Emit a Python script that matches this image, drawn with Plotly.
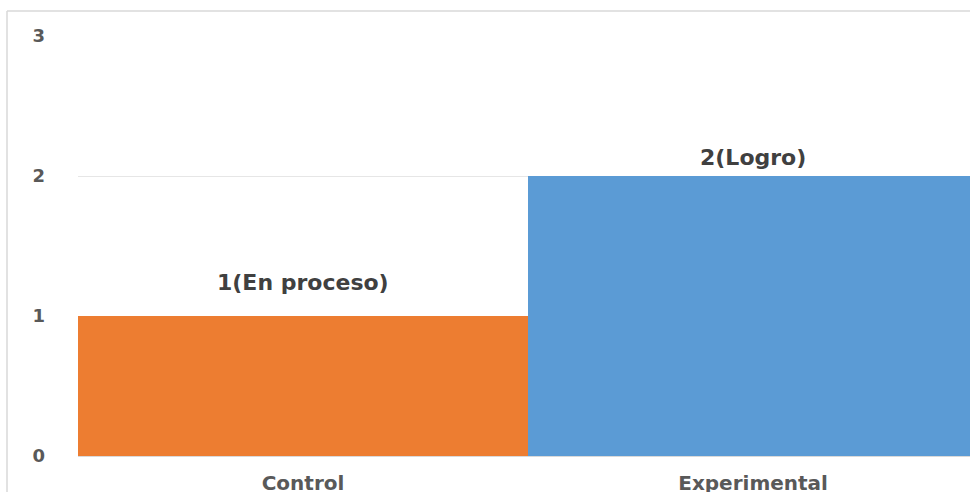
import plotly.graph_objects as go

# Grupos y nivel alcanzado
grupos = ["Control", "Experimental"]
niveles = [1, 2]
etiquetas = ["En proceso", "Logro"]
colores = ["#ED7D31", "#5B9BD5"]
ticks_y = [0, 1, 2, 3]

FUENTE = "DejaVu Sans"

fig = go.Figure()
fig.add_trace(go.Bar(
    x=grupos,
    y=niveles,
    marker=dict(color=colores, line=dict(width=0)),
    width=1.0,
    hoverinfo="skip",
))

# Rótulos de valor sobre cada barra
desplazamientos = {"Control": 34, "Experimental": 19}
for g, v, e in zip(grupos, niveles, etiquetas):
    fig.add_annotation(
        x=g, y=v, text=f"{v}({e})", showarrow=False,
        yshift=desplazamientos[g],
        font=dict(family=FUENTE, size=22, color="#404040", weight="bold"),
    )

# Borde del área del gráfico
fig.add_shape(type="line", xref="paper", yref="paper",
              x0=-0.0796, x1=1.2, y0=1.0595, y1=1.0595,
              line=dict(color="#D9D9D9", width=1.5))
fig.add_shape(type="line", xref="paper", yref="paper",
              x0=-0.0796, x1=-0.0796, y0=1.0595, y1=-0.2,
              line=dict(color="#D9D9D9", width=1.5))

fig.update_layout(
    width=970, height=492,
    margin=dict(l=78, r=0, t=36, b=36, autoexpand=False),
    paper_bgcolor="white", plot_bgcolor="white",
    bargap=0, showlegend=False,
    font=dict(family=FUENTE, color="#595959"),
)
fig.update_xaxes(
    range=[-0.5, 1.482], showgrid=False, showline=False, zeroline=False,
    ticks="", ticklabelstandoff=13, automargin=False,
    tickfont=dict(family=FUENTE, size=20, color="#595959", weight="bold"),
)
fig.update_yaxes(
    range=[0, 3.0], tickvals=ticks_y, showgrid=True, gridcolor="#E6E6E6", gridwidth=1,
    zeroline=True, zerolinecolor="#D9D9D9", zerolinewidth=1, showline=False,
    ticks="", ticklabelstandoff=32, automargin=False,
    tickfont=dict(family=FUENTE, size=18, color="#595959", weight="bold"),
)

fig.write_html("out.html")
